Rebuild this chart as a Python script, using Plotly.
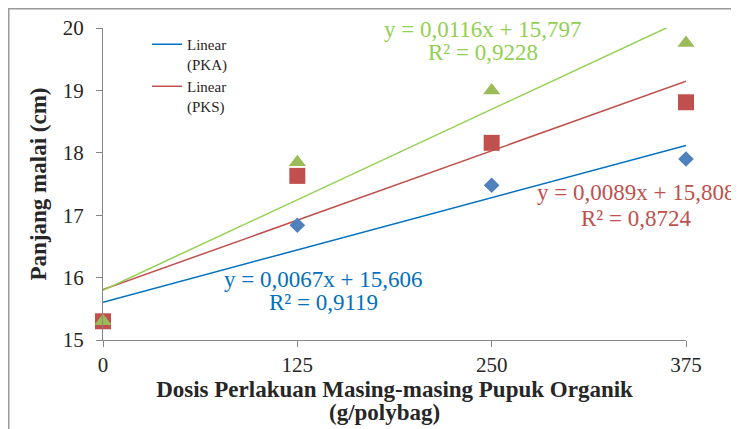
import plotly.graph_objects as go

# ---- data ----
doses = [0, 125, 250, 375]
pka = [15.30, 16.84, 17.48, 17.90]
pks = [15.30, 17.63, 18.16, 18.81]
pkg = [15.30, 17.85, 19.00, 19.76]

series_names = ["PKA", "PKS", "PKG"]
slopes = [0.0067, 0.0089, 0.0116]
intercepts = [15.606, 15.808, 15.797]
eq_texts = ["y = 0,0067x + 15,606", "y = 0,0089x + 15,808", "y = 0,0116x + 15,797"]
r2_texts = ["R² = 0,9119", "R² = 0,8724", "R² = 0,9228"]
x_ticks = [0, 125, 250, 375]
y_ticks = [15, 16, 17, 18, 19, 20]

marker_colors = ["#4F81BD", "#C0504D", "#9BBB59"]
marker_symbols = ["diamond", "square", "triangle-up"]
marker_sizes = [12, 16, 15]
line_colors = ["#0070C0", "#C0504D", "#92D050"]

FONT = "Liberation Serif"

fig = go.Figure()

# trend lines
for i, name in enumerate(series_names):
    xs = [doses[0], doses[-1]]
    ys = [slopes[i] * x + intercepts[i] for x in xs]
    fig.add_trace(go.Scatter(
        x=xs, y=ys, mode="lines",
        line=dict(color=line_colors[i], width=1.5),
        name=f"Linear<br>({name})",
        showlegend=(i < 2),
        hoverinfo="skip",
    ))

# markers (draw in order: diamond, square, triangle)
for i, (name, vals) in enumerate(zip(series_names, [pka, pks, pkg])):
    fig.add_trace(go.Scatter(
        x=doses, y=vals, mode="markers",
        marker=dict(symbol=marker_symbols[i], size=marker_sizes[i],
                    color=marker_colors[i], line=dict(width=0)),
        name=name, showlegend=False, cliponaxis=False,
    ))

# equation annotations (x center, y of equation line, y of R² line) in data units
ann_pos = [(141.8, 15.962, 15.609), (343.0, 17.356, 16.955), (244.4, 19.984, 19.600)]
for i in range(3):
    for txt, yy in ((eq_texts[i], ann_pos[i][1]), (r2_texts[i], ann_pos[i][2])):
        fig.add_annotation(
            x=ann_pos[i][0], y=yy, xref="x", yref="y",
            text=txt, showarrow=False, yanchor="middle", xanchor="center",
            font=dict(family=FONT, size=23, color=line_colors[i]),
        )

# page offset (browser body margin)
OFF = 8
W, H = 739 - OFF, 429 - OFF
L, R, T, B = 103 - OFF, 686 - OFF, 28 - OFF, 340 - OFF
pw, ph = R - L, B - T

# outer chart border
fig.add_shape(type="rect", xref="paper", yref="paper",
              x0=(0.5 - L) / pw, x1=(W + 20 - L) / pw,
              y0=(B - H - 20) / ph, y1=1 + (T - 0.5) / ph,
              line=dict(color="#9a9a9a", width=2), fillcolor="rgba(0,0,0,0)",
              layer="above")

# second line of x-axis title
fig.add_annotation(x=(384 - 103) / pw, y=(340 - 412) / ph, xref="paper", yref="paper",
                   text="<b>(g/polybag)</b>", showarrow=False, yanchor="middle",
                   font=dict(family=FONT, size=23, color="#262626"))

axis_color = "#868686"
fig.update_layout(
    width=W, height=H,
    margin=dict(l=L, r=W - R, t=T, b=H - B, autoexpand=False),
    paper_bgcolor="white", plot_bgcolor="white",
    font=dict(family=FONT, color="#262626"),
    showlegend=True,
    legend=dict(x=(147 - OFF - L) / pw, y=1 - (28 - OFF - T) / ph, xanchor="left", yanchor="top",
                bgcolor="rgba(0,0,0,0)", font=dict(family=FONT, size=15, color="#262626"),
                valign="top", tracegroupgap=6),
    xaxis=dict(range=[0, 375], tickvals=x_ticks, ticktext=[str(v) for v in x_ticks],
               automargin=False,
               showgrid=False, zeroline=False, showline=True, linecolor=axis_color,
               linewidth=1, ticks="outside", ticklen=6, tickcolor=axis_color,
               tickfont=dict(family=FONT, size=21, color="#262626"),
               title=dict(text="<b>Dosis Perlakuan Masing-masing Pupuk Organik</b>",
                          font=dict(family=FONT, size=23, color="#262626"), standoff=2)),
    yaxis=dict(range=[15, 20], tickvals=y_ticks, automargin=False,
               showgrid=False, zeroline=False, showline=True, linecolor=axis_color,
               linewidth=1, ticks="outside", ticklen=6, tickcolor=axis_color,
               ticklabelstandoff=8,
               tickfont=dict(family=FONT, size=21, color="#262626"),
               title=dict(text="<b>Panjang malai (cm)</b>",
                          font=dict(family=FONT, size=23, color="#262626"), standoff=9)),
)

fig.write_html("out.html")
